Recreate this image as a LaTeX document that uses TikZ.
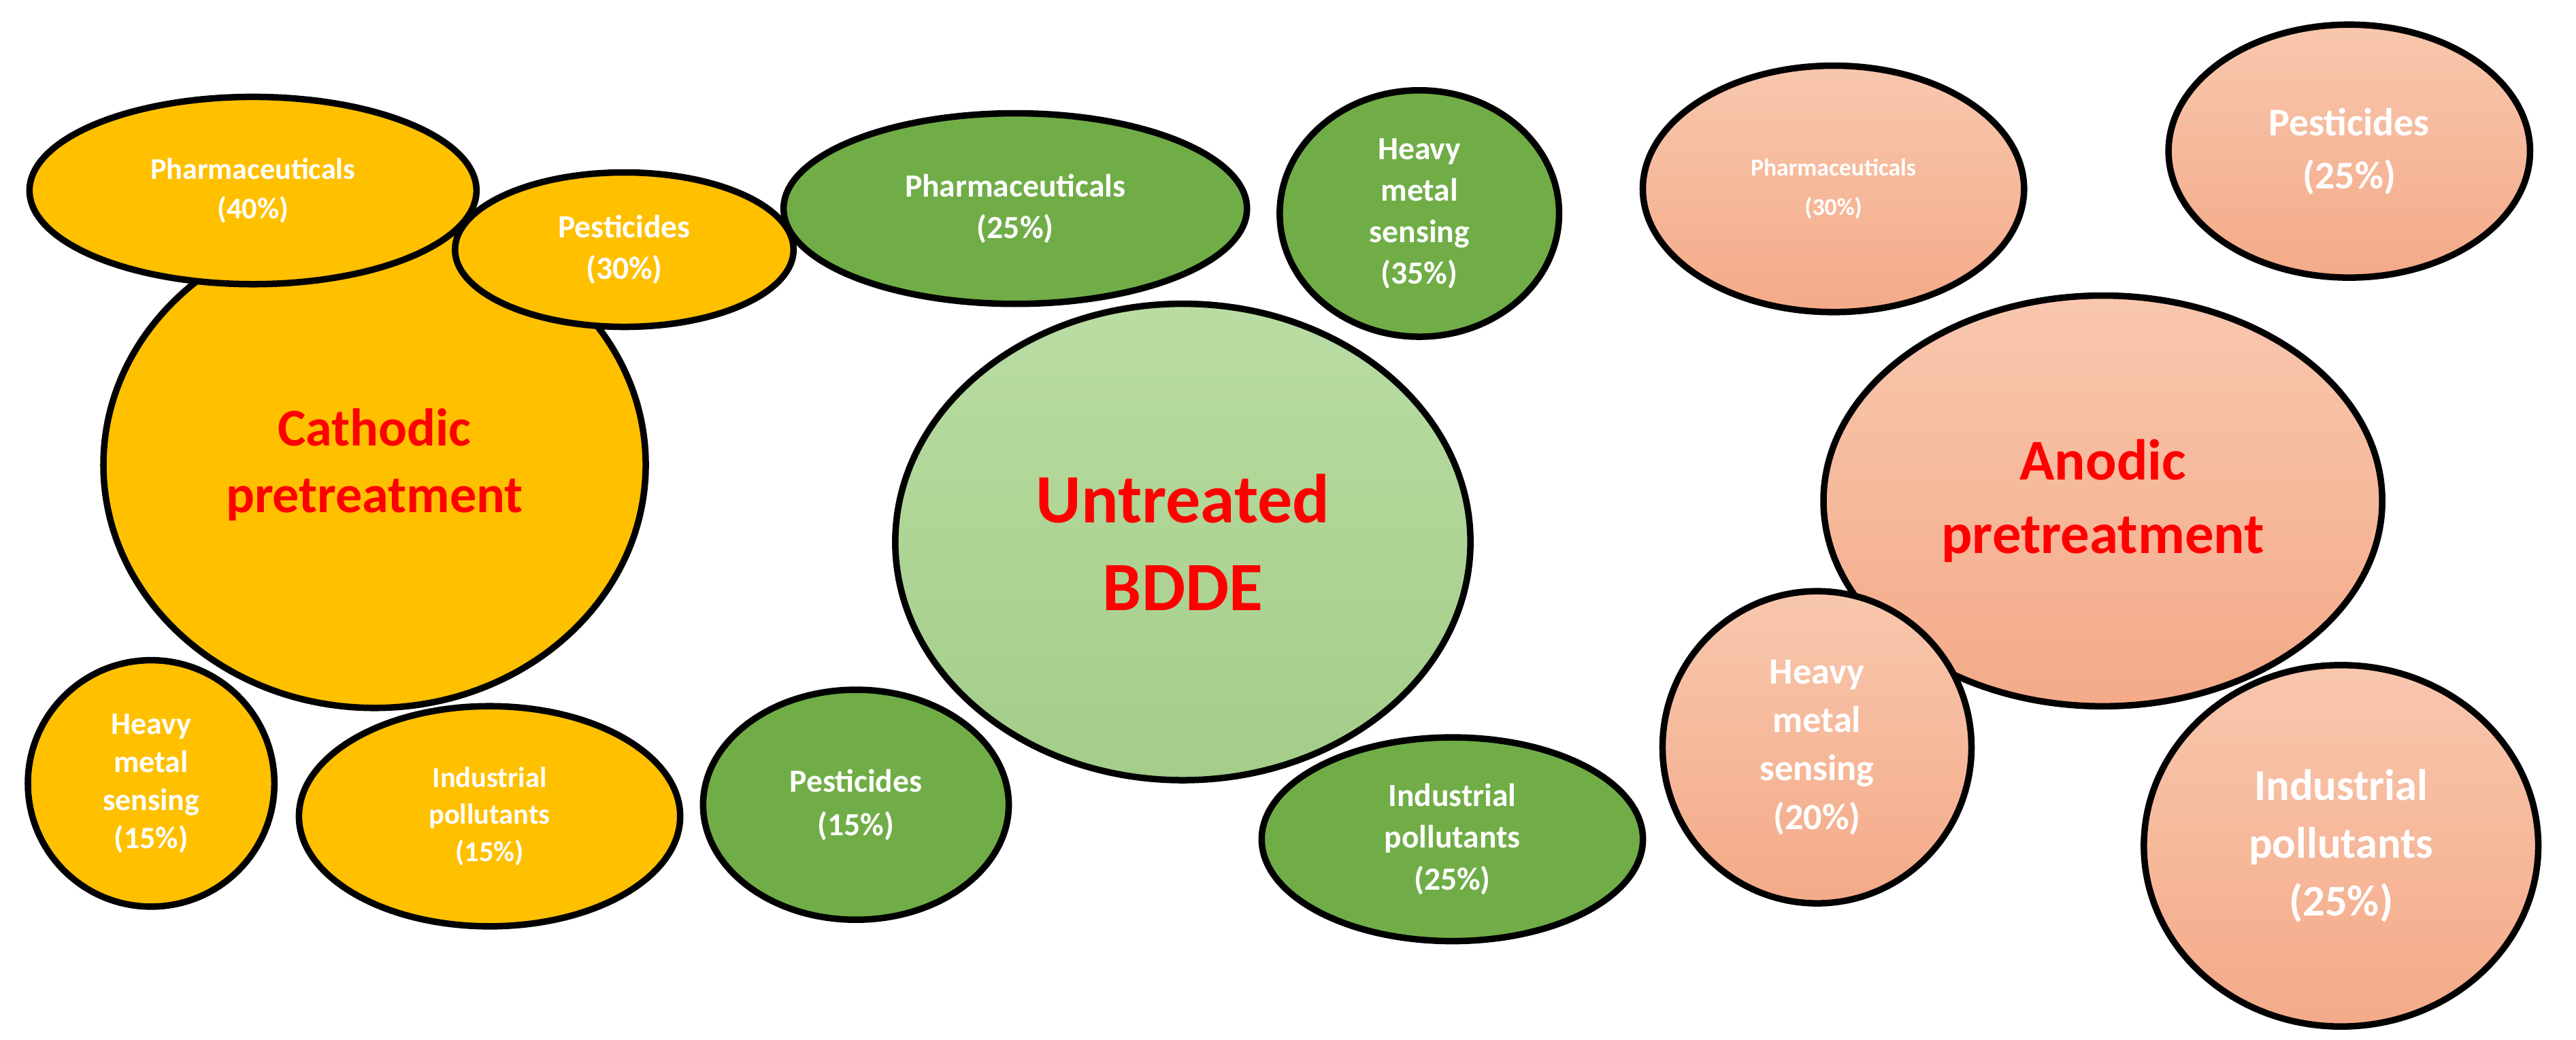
\documentclass[tikz,border=0pt]{standalone}
\usepackage{fontspec}
\setmainfont{Carlito}
\usetikzlibrary{shapes.geometric}
\definecolor{yel}{HTML}{FFC000}
\definecolor{grn}{HTML}{70AD47}
\definecolor{lg1}{HTML}{B9DCA3}
\definecolor{lg2}{HTML}{A3CD88}
\definecolor{sa1}{HTML}{F8C7AE}
\definecolor{sa2}{HTML}{F4AA88}
\tikzset{
 e/.style n args={2}{ellipse, draw=black, line width=2.8pt, inner sep=0pt, align=center,
   text=white, font=\bfseries, minimum width={#1*0.05cm}, minimum height={#2*0.05cm}},
 Y/.style={fill=yel}, G/.style={fill=grn},
 LG/.style={top color=lg1, bottom color=lg2},
 S/.style={top color=sa1, bottom color=sa2},
 big/.style={text=red},
}
\newcommand{\fs}[2]{\fontsize{#1}{#2}\selectfont}
\begin{document}
\begin{tikzpicture}[x=0.025cm,y=-0.025cm]
\useasboundingbox (0,0) rectangle (1568,633);
% big ones first
\node[e={165}{148},Y,big,font=\bfseries\fs{23}{29}] (yc) at (228,283) {Cathodic\\pretreatment};
\node[e={175}{145},LG,big,font=\bfseries\fs{30}{38}] (gu) at (720,330) {Untreated\\BDDE};
\node[e={170}{125},S,big,font=\bfseries\fs{25}{32}] (sa) at (1280,305) {Anodic\\pretreatment};
% yellow
\node[e={136}{57},Y,font=\bfseries\fs{13}{17}] (yp) at (154,116) {Pharmaceuticals\\(40\%)};
\node[e={103}{47},Y,font=\bfseries\fs{14}{18}] (ys) at (380,152) {Pesticides\\(30\%)};
\node[e={75}{75},Y,font=\bfseries\fs{13.5}{16.5}] (yh) at (92,477) {Heavy\\metal\\sensing\\(15\%)};
\node[e={116}{67},Y,font=\bfseries\fs{12.5}{16}] (yi) at (298,497) {Industrial\\pollutants\\(15\%)};
% green
\node[e={141}{58},G,font=\bfseries\fs{14}{18}] (gp) at (618,127) {Pharmaceuticals\\(25\%)};
\node[e={85}{75},G,font=\bfseries\fs{14}{18}] (gh) at (864,130) {Heavy\\metal\\sensing\\(35\%)};
\node[e={93}{70},G,font=\bfseries\fs{14}{19}] (gs) at (521,490) {Pesticides\\(15\%)};
\node[e={116}{62},G,font=\bfseries\fs{14}{18}] (gi) at (884,511) {Industrial\\pollutants\\(25\%)};
% salmon
\node[e={116}{75},S,font=\bfseries\fs{10.5}{17}] (sp) at (1116,115) {Pharmaceuticals\\(30\%)};
\node[e={110}{77},S,font=\bfseries\fs{17}{23}] (ss) at (1430,92) {Pesticides\\(25\%)};
\node[e={94}{95},S,font=\bfseries\fs{16}{21}] (sh) at (1106,455) {Heavy\\metal\\sensing\\(20\%)};
\node[e={120}{110},S,font=\bfseries\fs{19}{25}] (si) at (1425,515) {Industrial\\pollutants\\(25\%)};
\end{tikzpicture}
\end{document}
